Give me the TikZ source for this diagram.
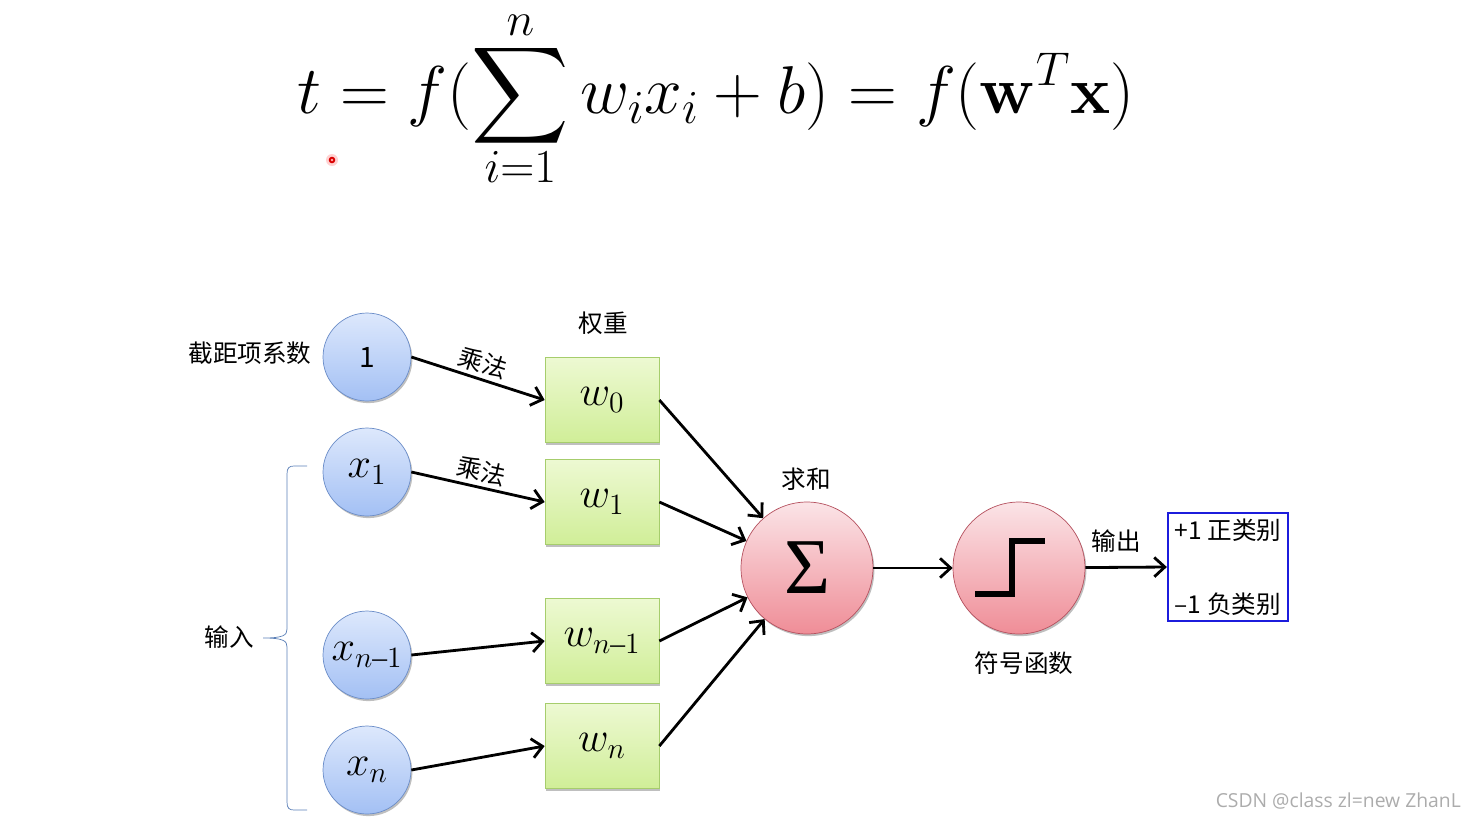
\RequirePackage{fix-cm}
\documentclass[tikz,border=0pt]{standalone}
\usepackage{exscale}
\usepackage{amsmath}
\usepackage[no-math]{fontspec}
\usepackage{tikz}
\usetikzlibrary{arrows.meta,shadows}
\DeclareFontFamily{OMX}{cmex}{}
\DeclareFontShape{OMX}{cmex}{m}{n}{<->cmex10}{}
\setmainfont{Liberation Serif}
\newfontfamily\cjk{Noto Sans CJK SC}
\newfontfamily\tiempos{Liberation Serif}
\newfontfamily\marca{Open Sans}
\definecolor{azularriba}{HTML}{DDE8FC}
\definecolor{azulabajo}{HTML}{A3C0F4}
\definecolor{azulborde}{HTML}{6B8DC8}
\definecolor{verdearriba}{HTML}{EDF9D2}
\definecolor{verdeabajo}{HTML}{D0EE98}
\definecolor{verdeborde}{HTML}{A6CD6C}
\definecolor{rojoarriba}{HTML}{FBE4E7}
\definecolor{rojoabajo}{HTML}{EF8D97}
\definecolor{rojoborde}{HTML}{B5505E}
\definecolor{llave}{HTML}{5A7FB7}
\definecolor{salidaborde}{HTML}{1C1CDC}
\newcommand{\nmenos}{n\text{–}1}
\newcommand{\limabajo}{\smash{\raisebox{4.5pt}{$\scriptstyle i=1$}}}
\newcommand{\limarriba}{\smash{\raisebox{-4pt}{$\scriptstyle n$}}}
\tikzset{
  sombra/.style={drop shadow={shadow xshift=0.8pt,shadow yshift=-1.2pt,opacity=0.25,fill=black}},
  entrada/.style={circle,minimum size=1.76cm,inner sep=0pt,draw=azulborde,
    top color=azularriba,bottom color=azulabajo,sombra},
  peso/.style={rectangle,minimum width=2.28cm,minimum height=1.7cm,inner sep=0pt,
    draw=verdeborde,top color=verdearriba,bottom color=verdeabajo,sombra},
  neurona/.style={circle,minimum size=2.64cm,inner sep=0pt,draw=rojoborde,
    top color=rojoarriba,bottom color=rojoabajo,sombra},
  flecha/.style={-{Straight Barb[length=6pt,width=11pt]},line width=1.6pt},
  etiq/.style={font=\cjk\fontsize{14}{16}\selectfont,inner sep=1pt},
  mate/.style={font=\fontsize{24}{28}\selectfont}
}

\begin{document}
\begin{tikzpicture}[x=0.02cm,y=-0.02cm]
\useasboundingbox (0,0) rectangle (1477,819);
% formula
\node[anchor=base,font=\fontsize{38.5}{44}\selectfont,inner sep=0pt] (formula) at (716,113)
  {$\displaystyle t = f(\sum_{\limabajo}^{\limarriba} w_i x_i + b) = f(\mathbf{w}^T\mathbf{x})$};
\fill[red!18] (332,160) circle (6);
\fill[red!85!black] (332,160) circle (3.3);
\fill[red!30] (332,160) circle (1.3);
% entradas
\node[entrada,font=\cjk\fontsize{16}{18}\selectfont] (uno) at (367,357) {1};
\node[entrada,mate] (x1) at (367,472) {$x_1$};
\node[entrada,mate] (xn1) at (367,655) {$x_{\nmenos}$};
\node[entrada,mate] (xn) at (367,770) {$x_n$};
% pesos
\node[peso,mate] (w0) at (602,400) {$w_0$};
\node[peso,mate] (w1) at (602,502) {$w_1$};
\node[peso,mate] (wn1) at (602,641) {$w_{\nmenos}$};
\node[peso,mate] (wn) at (602,746) {$w_n$};
% suma y signo
\node[neurona,font=\tiempos\fontsize{45}{50}\selectfont] (suma) at (807,568) {Σ};
\node[neurona] (signo) at (1019,568) {};
\draw[line width=3.4pt] (975,594) -- (1012,594) -- (1012,541) -- (1045,541);
\node[rectangle,draw=salidaborde,line width=1.3pt,minimum width=2.4cm,minimum height=2.16cm,
  align=left,font=\cjk\fontsize{14}{16}\selectfont]
  (salida) at (1228,567) {+1 正类别\\[26pt]–1 负类别};
% etiquetas
\node[etiq] (intercepto) at (250,353) {截距项系数};
\node[etiq] (tpeso) at (603,323) {权重};
\node[etiq] (tsuma) at (806,479) {求和};
\node[etiq] (tsalida) at (1116,541) {输出};
\node[etiq] (tsigno) at (1024,663) {符号函数};
\node[etiq] (tentrada) at (229,637) {输入};
% llave
\draw[llave,thin] (307,466) -- (294,466) .. controls (289,466) and (287,468) .. (287,474)
  -- (287,629) .. controls (287,635) and (284,638) .. (263,638)
  .. controls (284,638) and (287,641) .. (287,647)
  -- (287,802) .. controls (287,808) and (289,810) .. (294,810) -- (307,810);
% conexiones
\draw[flecha] (uno.east) -- node[etiq,midway,sloped,above=1pt] {乘法} (w0.west);
\draw[flecha] (x1.east) -- node[etiq,midway,sloped,above=1pt] {乘法} (w1.west);
\draw[flecha] (xn1.east) -- (wn1.west);
\draw[flecha] (xn.east) -- (wn.west);
\foreach \w in {w0,w1,wn1,wn}
  \draw[flecha] (\w.east) -- (suma);
\draw[flecha] (suma) -- (signo);
\draw[flecha] (signo) -- (salida.west);
\node[anchor=east,text=gray!65,font=\marca\fontsize{11}{13}\selectfont] (marca) at (1467,801)
  {CSDN @class zl=new ZhanL};
\end{tikzpicture}
\end{document}
